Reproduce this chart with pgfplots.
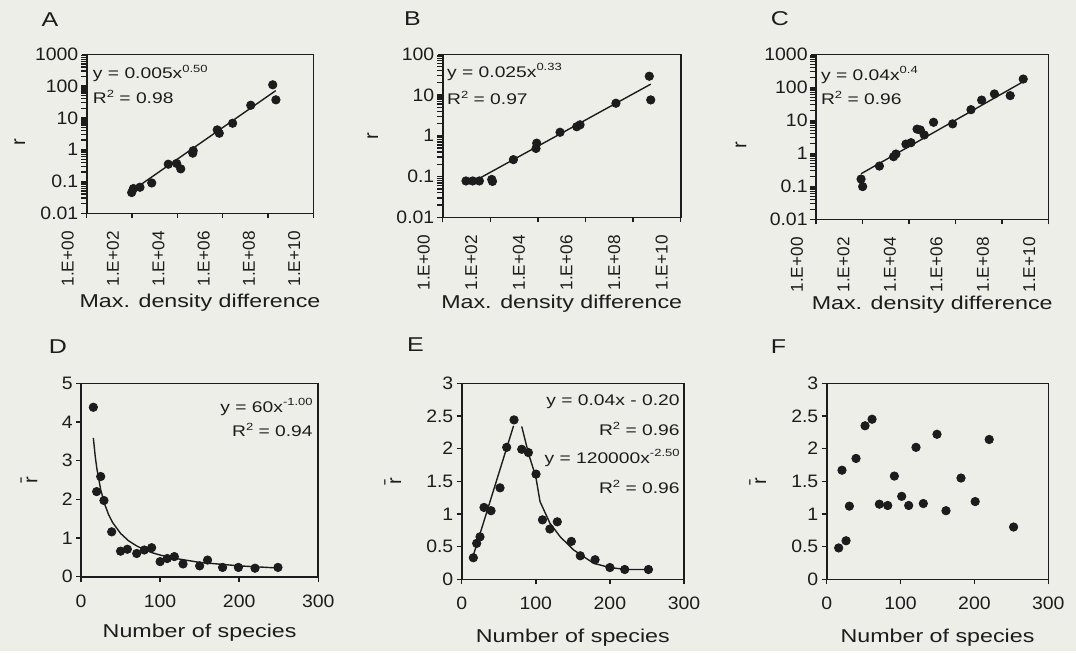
\documentclass[border=0pt]{standalone}
\usepackage{fontspec}
\setmainfont{Liberation Sans}[FakeStretch=1.08]
\newfontfamily\wide{Liberation Sans}[FakeStretch=1.25]
\newfontfamily\plain{Liberation Sans}
\usepackage{pgfplots}
\pgfplotsset{compat=1.18}
\definecolor{bg}{RGB}{238,238,233}
\definecolor{ink}{RGB}{28,28,28}
\newcommand{\sups}[1]{\raisebox{0.8ex}{\fontsize{5.2}{6}\selectfont #1}}
\tikzset{eq/.style={font=\wide\fontsize{7.7}{9}\selectfont, text=ink, inner sep=0pt},
  letter/.style={font=\wide\fontsize{10}{11}\selectfont, text=ink}}
\pgfplotsset{
  panel/.style={
    scale only axis, anchor=south west,
    axis line style={ink, line width=0.8pt},
    tick style={ink, line width=0.7pt}, tick align=outside, major tick length=2.5pt,
    tick pos=left, minor tick num=0,
    tick label style={font=\fontsize{9}{10}\selectfont, text=ink},
    yticklabel style={inner xsep=1.5pt},
    label style={font=\wide\fontsize{9.3}{11}\selectfont, text=ink},
    ylabel style={anchor=center},
    xlabel style={anchor=center},
  },
  dots/.style={only marks, mark=*, mark size=2.1pt, mark options={fill=ink, draw=ink}},
  fit/.style={no marks, ink, line width=0.7pt},
  logpanel/.style={panel, xmin=1, xmax=1e10,
    xtick={1,100,10000,1000000,100000000,10000000000},
    xticklabels={1.E+00,1.E+02,1.E+04,1.E+06,1.E+08,1.E+10},
    xticklabel style={font=\plain\fontsize{8.6}{10}\selectfont, xshift=-9.5pt, rotate=90, anchor=east},
    xticklabel shift=3pt,
    xlabel={Max. density difference}, ylabel={\plain\fontsize{10}{11}\selectfont r},
    ymin=0.01},
  linpanel/.style={panel, xmin=0, xmax=300, xtick={0,100,200,300},
    xticklabels={0,100,200,300}, xticklabel shift=3pt,
    xlabel={Number of species}},
}
\begin{document}
\begin{tikzpicture}
\fill[bg] (0,0) rectangle (538pt,325.5pt);
\node[letter] at (25pt,315.75pt) {A};
\node[letter] at (206.25pt,316.25pt) {B};
\node[letter] at (390pt,316.25pt) {C};
\node[letter] at (29pt,152pt) {D};
\node[letter] at (207.75pt,153pt) {E};
\node[letter] at (389.25pt,152pt) {F};
% ---------------- A
\begin{loglogaxis}[logpanel, at={(43.35pt,218.85pt)}, width=113.3pt, height=79.5pt,
  ymax=1000, ytick={0.01,0.1,1,10,100,1000}, yticklabels={0.01,0.1,1,10,100,1000},
  ylabel style={at={(axis description cs:-0.296,0.45)}},
  xlabel style={at={(axis description cs:0.5,-0.56)}}]
\addplot[dots] table {
96.6 0.045
115 0.06
224 0.066
741 0.09
3981 0.35
9333 0.37
14125 0.25
47863 0.78
50000 0.93
575000 4.2
708000 3.3
2750000 6.8
17400000 25
162000000 110
224000000 37
};
\addplot[fit] coordinates {(95,0.05) (2.2e8,72)};
\node[eq, anchor=west] at (axis description cs:0.026,0.88) {y = 0.005x\sups{0.50}};
\node[eq, anchor=west] at (axis description cs:0.026,0.731) {R\sups{2} = 0.98};
\end{loglogaxis}
% ---------------- B
\begin{loglogaxis}[logpanel, at={(221.35pt,216.85pt)}, width=119pt, height=81.5pt,
  ymax=100, ytick={0.01,0.1,1,10,100}, yticklabels={0.01,0.1,1,10,100},
  ylabel style={at={(axis description cs:-0.294,0.5)}},
  xlabel style={at={(axis description cs:0.5,-0.527)}}]
\addplot[dots] table {
9.5 0.078
18.2 0.078
34.7 0.078
115 0.085
123 0.076
933 0.26
8318 0.49
8913 0.66
85114 1.22
427000 1.67
589000 1.86
19000000 6.3
479000000 29
550000000 7.6
};
\addplot[fit] coordinates {(13,0.066) (5.5e8,18.5)};
\node[eq, anchor=west] at (axis description cs:0.017,0.891) {y = 0.025x\sups{0.33}};
\node[eq, anchor=west] at (axis description cs:0.017,0.732) {R\sups{2} = 0.97};
\end{loglogaxis}
% ---------------- C
\begin{loglogaxis}[logpanel, at={(408pt,215.85pt)}, width=116.15pt, height=82.5pt,
  ymax=1000, ytick={0.01,0.1,1,10,100,1000}, yticklabels={0.01,0.1,1,10,100,1000},
  ylabel style={at={(axis description cs:-0.323,0.45)}},
  xlabel style={at={(axis description cs:0.5,-0.52)}}]
\addplot[dots] table {
87 0.166
102 0.098
537 0.41
2188 0.79
2754 0.95
7413 1.9
12303 2.1
22387 5.4
30903 5.1
45709 3.6
115000 8.7
759000 7.8
4680000 21
13500000 41
47900000 63
229000000 56
832000000 178
};
\addplot[fit] coordinates {(87,0.24) (8.3e8,148)};
\node[eq, anchor=west] at (axis description cs:0.02,0.875) {y = 0.04x\sups{0.4}};
\node[eq, anchor=west] at (axis description cs:0.02,0.735) {R\sups{2} = 0.96};
\end{loglogaxis}
% ---------------- D
\begin{axis}[linpanel, at={(40.5pt,37.15pt)}, width=118.65pt, height=96.7pt,
  ymin=0, ymax=5, ytick={0,1,2,3,4,5}, yticklabels={0,1,2,3,4,5},
  ylabel={\plain\fontsize{10}{11}\selectfont\={r}},
  ylabel style={at={(axis description cs:-0.219,0.5)}},
  xlabel style={at={(axis description cs:0.5,-0.29)}}]
\addplot[dots] table {
15.6 4.38
19.8 2.2
24.9 2.59
29 1.97
38.8 1.16
50 0.66
58.6 0.71
70.4 0.6
80 0.69
89.3 0.75
100 0.39
109 0.47
118 0.52
129 0.33
150 0.28
160 0.43
179 0.24
199 0.24
220 0.22
249 0.24
};
\addplot[fit] coordinates {(15.6,3.59) (18,3.11) (20,2.8) (25,2.24) (30,1.87) (35,1.6) (40,1.4) (50,1.12) (60,0.93) (70,0.8) (80,0.7) (90,0.62) (100,0.56) (120,0.47) (150,0.37) (200,0.28) (250,0.224)};
\node[eq, anchor=east] at (axis description cs:0.978,0.877) {y = 60x\sups{-1.00}};
\node[eq, anchor=east] at (axis description cs:0.978,0.759) {R\sups{2} = 0.94};
\end{axis}
% ---------------- E
\begin{axis}[linpanel, at={(230.85pt,35.85pt)}, width=111.15pt, height=98pt,
  ymin=0, ymax=3, ytick={0,0.5,1,1.5,2,2.5,3}, yticklabels={0,0.5,1,1.5,2,2.5,3},
  ylabel={\plain\fontsize{10}{11}\selectfont\={r}},
  ylabel style={at={(axis description cs:-0.31,0.5)}},
  xlabel style={at={(axis description cs:0.5,-0.30)}}]
\addplot[dots] table {
15.7 0.33
20.2 0.55
24.7 0.65
30.1 1.10
39.6 1.05
51.7 1.40
60.7 2.02
70.6 2.44
81 1.99
90 1.94
100.3 1.61
109 0.91
119 0.77
129 0.88
148 0.58
160 0.36
180 0.30
200 0.18
220 0.15
252 0.15
};
\addplot[fit] coordinates {(15.5,0.36) (70,2.35)};
\addplot[fit] coordinates {(81,2.34) (90,1.93) (100,1.57) (105.7,1.19) (119,0.86) (133,0.65) (151,0.45) (178,0.245) (200,0.18) (222,0.15) (252,0.15)};
\node[eq, anchor=east] at (axis description cs:0.982,0.905) {y = 0.04x - 0.20};
\node[eq, anchor=east] at (axis description cs:0.982,0.767) {R\sups{2} = 0.96};
\node[eq, anchor=east] at (axis description cs:0.982,0.619) {y = 120000x\sups{-2.50}};
\node[eq, anchor=east] at (axis description cs:0.982,0.471) {R\sups{2} = 0.96};
\end{axis}
% ---------------- F
\begin{axis}[linpanel, at={(413.35pt,35.85pt)}, width=110.8pt, height=98pt,
  ymin=0, ymax=3, ytick={0,0.5,1,1.5,2,2.5,3}, yticklabels={0,0.5,1,1.5,2,2.5,3},
  ylabel={\plain\fontsize{10}{11}\selectfont\={r}},
  ylabel style={at={(axis description cs:-0.311,0.5)}},
  xlabel style={at={(axis description cs:0.5,-0.30)}}]
\addplot[dots] table {
16.2 0.48
26.2 0.59
20.7 1.67
30.7 1.12
39.7 1.85
51.9 2.35
61.4 2.45
71.3 1.15
82.6 1.13
91.6 1.58
101.5 1.27
111 1.13
120.9 2.02
130.8 1.16
149.3 2.22
161.5 1.05
181.8 1.55
201 1.19
220 2.14
253 0.80
};
\end{axis}
\end{tikzpicture}
\end{document}
